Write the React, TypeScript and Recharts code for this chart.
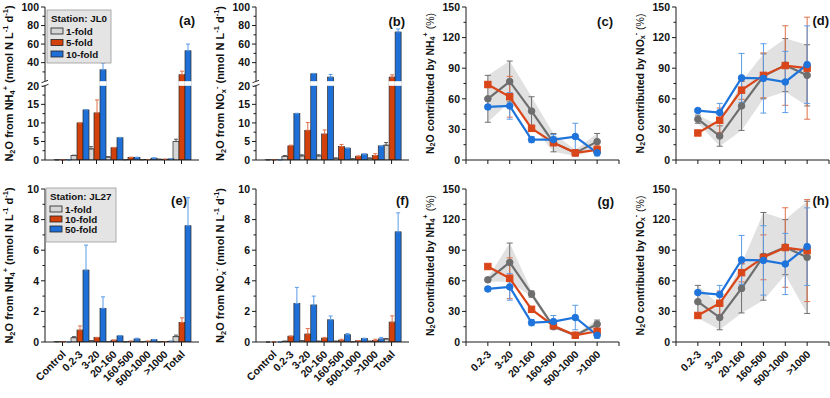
import React from 'react';
import { ComposedChart, Bar, Line, Area, XAxis, YAxis, ErrorBar } from 'recharts';

// ---------- categories ----------
const barCategories = ['Control', '0.2-3', '3-20', '20-160', '160-500', '500-1000', '>1000', 'Total'];
const lineCategories = ['0.2-3', '3-20', '20-160', '160-500', '500-1000', '>1000'];

// ---------- (a) JL0, N2O from NH4+ ----------
const aFold1 = [0.05, 1.2, 3.0, 0.8, 0.1, 0.1, 0.2, 5.0];
const aFold1Err = [0, 0.1, 0.6, 0.1, 0, 0, 0, 0.6];
const aFold5 = [0.05, 10.0, 12.7, 3.3, 0.7, 0.1, 0.2, 27.0];
const aFold5Err = [0, 0, 3.5, 0.1, 0.05, 0, 0, 3.8];
const aFold10 = [0.05, 13.5, 32.3, 6.0, 0.7, 0.5, 0.3, 52.8];
const aFold10Err = [0, 0.1, 7.2, 0.1, 0.05, 0.05, 0, 7.2];

// ---------- (b) JL0, N2O from NOx- ----------
const bFold1 = [0.05, 1.0, 1.1, 1.1, 0.5, 0.3, 0.5, 4.0];
const bFold1Err = [0, 0.2, 0.3, 0.3, 0, 0, 0, 0.7];
const bFold5 = [0.05, 3.8, 8.0, 7.0, 3.6, 1.0, 1.2, 24.4];
const bFold5Err = [0, 0.2, 2.1, 1.1, 0.6, 0.1, 0.5, 2.5];
const bFold10 = [0.05, 12.5, 28.0, 24.4, 3.2, 1.6, 3.8, 73.0];
const bFold10Err = [0, 0.1, 0.4, 2.9, 0, 0, 0, 3.3];

// ---------- (e) JL27, N2O from NH4+ ----------
const eFold1 = [0.02, 0.28, 0.08, 0.03, 0.02, 0.02, 0.02, 0.35];
const eFold1Err = [0, 0.07, 0, 0, 0, 0, 0, 0.1];
const eFold10 = [0.02, 0.78, 0.3, 0.12, 0.05, 0.05, 0.03, 1.28];
const eFold10Err = [0, 0.27, 0, 0, 0, 0, 0, 0.3];
const eFold50 = [0, 4.7, 2.2, 0.4, 0.2, 0.15, 0.05, 7.6];
const eFold50Err = [0, 1.63, 0.75, 0.03, 0.05, 0.02, 0, 1.83];

// ---------- (f) JL27, N2O from NOx- ----------
const fFold1 = [0, 0.05, 0.08, 0.05, 0.05, 0.02, 0.05, 0.2];
const fFold1Err = [0, 0, 0, 0, 0, 0, 0, 0.03];
const fFold10 = [0, 0.38, 0.52, 0.25, 0.12, 0.08, 0.1, 1.3];
const fFold10Err = [0, 0, 0.36, 0.05, 0.06, 0, 0.08, 0.41];
const fFold50 = [0, 2.52, 2.42, 1.45, 0.48, 0.22, 0.2, 7.2];
const fFold50Err = [0, 1.05, 0.58, 0.25, 0.07, 0.03, 0.1, 1.24];

// ---------- (c) contribution by NH4+ (JL0) ----------
const cGrey = [60, 77, 48, 17, 7, 18];
const cGreyErr = [23, 20, 14, 9, 3, 8];
const cRed = [74, 62, 31, 17, 7, 10];
const cRedErr = [3, 20, 3, 3, 1, 4];
const cBlue = [52, 53, 20, 20, 23, 7];
const cBlueErr = [2, 13, 3, 5, 13, 3];

// ---------- (d) contribution by NOx- (JL0) ----------
const dGrey = [40, 23.5, 53, 82, 93, 83];
const dGreyErr = [4, 10, 24, 22, 26, 30];
const dRed = [26.5, 39, 68.5, 83, 92.6, 90];
const dRedErr = [2, 12, 9, 22, 39, 50];
const dBlue = [48.5, 46.5, 80.5, 80, 76.5, 93.5];
const dBlueErr = [2, 9, 24, 34, 30, 38];

// ---------- (g) contribution by NH4+ (JL27) ----------
const gGrey = [61, 78, 47, 15, 6.6, 17.5];
const gGreyErr = [2, 19, 3, 2, 1, 4];
const gRed = [74, 62.5, 32, 16, 6.6, 10.5];
const gRedErr = [2, 20, 3, 2, 1, 2];
const gBlue = [52, 54, 19, 20, 24, 6.6];
const gBlueErr = [2, 13, 3, 6, 12, 3];

// ---------- (h) contribution by NOx- (JL27) ----------
const hGrey = [39.5, 24, 52.5, 84, 93, 83];
const hGreyErr = [16, 12, 24, 43, 27, 55];
const hRed = [26, 38, 68, 83, 92.6, 89.6];
const hRedErr = [2, 12, 9, 22, 39, 50];
const hBlue = [48.5, 46.5, 80.5, 80, 76.5, 93.5];
const hBlueErr = [2, 9, 24, 34, 30, 38];

// ---------- legend labels ----------
const legendTop = ['1-fold', '5-fold', '10-fold'];
const legendBottom = ['1-fold', '10-fold', '50-fold'];

// ---------- styles ----------
const FONT = '"Liberation Sans", Arial, Helvetica, sans-serif';
const AX = '#1a1a1a';
const BAR_GREY = '#d6d6d6';
const BAR_RED = '#d2400c';
const BAR_BLUE = '#1e6fd8';
const ERR_GREY = '#555555';
const ERR_RED = '#e0704a';
const ERR_BLUE = '#5a9be8';
const LINE_GREY = '#6e6e6e';
const LINE_RED = '#d9461a';
const LINE_BLUE = '#1f74dc';
const TICK_FS = 10.5;

// broken axis (upper part compressed 4x, small gap)
const BREAK_AT = 20;
const BREAK_GAP = 1.25;
const toDisplay = (v: number) => (v <= BREAK_AT ? v : BREAK_AT + BREAK_GAP + (v - BREAK_AT) / 4);
const fromDisplay = (d: number) => (d <= BREAK_AT ? d : Math.round(BREAK_AT + (d - BREAK_AT - BREAK_GAP) * 4));

const COLS = [
  { left: 0, width: 205, yw: 45, mr: 6 },
  { left: 205, width: 210, yw: 51, mr: 6 },
  { left: 415, width: 210, yw: 51, mr: 6 },
  { left: 625, width: 205, yw: 51, mr: 1 },
];
const ROWS = [
  { top: 0, height: 175, mt: 7, xh: 15 },
  { top: 175, height: 223, mt: 14, xh: 56 },
];

type Ser = { v: number[]; e: number[] };

function buildBarRows(series: Ser[], broken: boolean) {
  const f = broken ? toDisplay : (v: number) => v;
  return barCategories.map((cat, i) => {
    const row: any = { cat };
    ['g', 'r', 'b'].forEach((k, s) => {
      const v = series[s].v[i];
      const e = series[s].e[i];
      row[k] = f(v);
      row[k + 'E'] = [0, f(v + e) - f(v)];
    });
    return row;
  });
}

function buildLineRows(g: number[], gE: number[], r: number[], rE: number[], b: number[], bE: number[]) {
  return lineCategories.map((cat, i) => ({
    x: i + 1,
    cat,
    g: g[i],
    gE: gE[i],
    band: [g[i] - gE[i], g[i] + gE[i]],
    r: r[i],
    rE: rE[i],
    b: b[i],
    bE: bE[i],
  }));
}

const YTick = (p: any) => {
  const { x, y, payload, majors, fmt, breakAt } = p;
  const v = payload.value;
  if (breakAt !== undefined && Math.abs(v - breakAt) < 1e-6) {
    return (
      <g>
        <rect x={x - 4} y={y - 2.2} width={8} height={4.4} fill="#fff" />
        <path
          d={`M${x - 3.5},${y - 0.8} L${x + 3},${y - 3.2} M${x - 3},${y + 3.2} L${x + 3.5},${y + 0.8}`}
          stroke={AX}
          strokeWidth={0.9}
          fill="none"
        />
      </g>
    );
  }
  const major = majors.some((m: number) => Math.abs(m - v) < 1e-6);
  return (
    <g>
      <line x1={x} x2={x - (major ? 4 : 2.5)} y1={y} y2={y} stroke={AX} strokeWidth={1} />
      {major && (
        <text x={x - 6} y={y} dy="0.36em" textAnchor="end" fontSize={TICK_FS} fontWeight="bold" fontFamily={FONT} fill="#111">
          {fmt(v)}
        </text>
      )}
    </g>
  );
};

const XTick = (p: any) => {
  const { x, y, payload, rotate, labelOf } = p;
  const label = labelOf ? labelOf(payload.value) : String(payload.value);
  return (
    <g>
      <line x1={x} x2={x} y1={y} y2={y + 4} stroke={AX} strokeWidth={1} />
      {rotate && label !== '' && (
        <text
          transform={`translate(${x + 4},${y + 13}) rotate(-45)`}
          textAnchor="end"
          fontSize={TICK_FS}
          fontWeight="bold"
          fontFamily={FONT}
          fill="#111"
        >
          {label}
        </text>
      )}
    </g>
  );
};

function makeBarShape(key: string, broken: boolean) {
  return (p: any) => {
    const { x, y, width, height, fill } = p;
    if ([x, y, width, height].some((n) => n == null || isNaN(n))) return <g />;
    const h = Math.max(height, 0);
    const d = p.payload ? p.payload[key] : 0;
    return (
      <g>
        <rect x={x} y={y} width={width} height={h} fill={fill} stroke="#2a2a2a" strokeWidth={0.7} />
        {broken && d > BREAK_AT + BREAK_GAP && h > 0 && (
          <rect
            x={x - 0.6}
            y={y + h - ((BREAK_AT + BREAK_GAP) * h) / d}
            width={width + 1.2}
            height={(BREAK_GAP * h) / d}
            fill="#fff"
          />
        )}
      </g>
    );
  };
}

function BarPanel({ c, r, series, broken }: { c: number; r: number; series: Ser[]; broken: boolean }) {
  const col = COLS[c];
  const row = ROWS[r];
  const data = buildBarRows(series, broken);
  const majors = broken ? [0, 5, 10, 15, 20, 26.25, 31.25, 36.25, 41.25] : [0, 2, 4, 6, 8, 10];
  const minors = broken ? [2.5, 7.5, 12.5, 17.5, 23.75, 28.75, 33.75, 38.75] : [1, 3, 5, 7, 9];
  const ticks = [...majors, ...minors, ...(broken ? [BREAK_AT + BREAK_GAP / 2] : [])].sort((a, b) => a - b);
  const domain = broken ? [0, 41.25] : [0, 10];
  const fmt = broken ? (v: number) => String(fromDisplay(v)) : (v: number) => String(v);
  const colors = [BAR_GREY, BAR_RED, BAR_BLUE];
  const errs = [ERR_GREY, ERR_RED, ERR_BLUE];
  return (
    <div style={{ position: 'absolute', left: col.left, top: row.top }}>
      <ComposedChart
        width={col.width}
        height={row.height}
        data={data}
        margin={{ top: row.mt, right: col.mr, bottom: 0, left: 0 }}
        barCategoryGap={0}
        barGap={0}
      >
        <XAxis
          dataKey="cat"
          type="category"
          interval={0}
          padding={{ left: 9, right: 9 }}
          height={row.xh}
          tickSize={0}
          tickMargin={0}
          tickLine={false}
          axisLine={{ stroke: AX, strokeWidth: 1 }}
          tick={<XTick rotate={r === 1} />}
        />
        <XAxis xAxisId="top" orientation="top" height={0} tick={false} tickLine={false} axisLine={{ stroke: AX, strokeWidth: 1 }} />
        <YAxis
          type="number"
          domain={domain}
          ticks={ticks}
          interval={0}
          allowDataOverflow
          width={col.yw}
          tickSize={0}
          tickMargin={0}
          tickLine={false}
          axisLine={{ stroke: AX, strokeWidth: 1 }}
          tick={<YTick majors={majors} fmt={fmt} breakAt={broken ? BREAK_AT + BREAK_GAP / 2 : undefined} />}
        />
        <YAxis yAxisId="right" orientation="right" width={0} domain={[0, 1]} tick={false} tickLine={false} axisLine={{ stroke: AX, strokeWidth: 1 }} />
        {['g', 'r', 'b'].map((k, i) => (
          <Bar key={k} dataKey={k} fill={colors[i]} isAnimationActive={false} shape={makeBarShape(k, broken)}>
            <ErrorBar dataKey={k + 'E'} width={2} stroke={errs[i]} strokeWidth={1} direction="y" />
          </Bar>
        ))}
      </ComposedChart>
    </div>
  );
}

const circleDot = (color: string) => (p: any) => (
  <circle key={`c${p.index}`} cx={p.cx} cy={p.cy} r={3.3} fill={color} stroke={color} />
);
const squareDot = (color: string) => (p: any) => (
  <rect key={`s${p.index}`} x={p.cx - 3.2} y={p.cy - 3.2} width={6.4} height={6.4} fill={color} stroke={color} />
);

function LinePanel({ c, r, rows }: { c: number; r: number; rows: any[] }) {
  const col = COLS[c];
  const row = ROWS[r];
  const majors = [0, 30, 60, 90, 120, 150];
  const ticks = [0, 15, 30, 45, 60, 75, 90, 105, 120, 135, 150];
  const labelOf = (v: number) => (v >= 1 && v <= lineCategories.length ? lineCategories[v - 1] : '');
  return (
    <div style={{ position: 'absolute', left: col.left, top: row.top }}>
      <ComposedChart width={col.width} height={row.height} data={rows} margin={{ top: row.mt, right: col.mr, bottom: 0, left: 0 }}>
        <XAxis
          dataKey="x"
          type="number"
          domain={[0, 7]}
          ticks={[0, 1, 2, 3, 4, 5, 6, 7]}
          interval={0}
          height={row.xh}
          tickSize={0}
          tickMargin={0}
          tickLine={false}
          axisLine={{ stroke: AX, strokeWidth: 1 }}
          tick={<XTick rotate={r === 1} labelOf={labelOf} />}
        />
        <XAxis xAxisId="top" orientation="top" height={0} tick={false} tickLine={false} axisLine={{ stroke: AX, strokeWidth: 1 }} />
        <YAxis
          type="number"
          domain={[0, 150]}
          ticks={ticks}
          interval={0}
          width={col.yw}
          tickSize={0}
          tickMargin={0}
          tickLine={false}
          axisLine={{ stroke: AX, strokeWidth: 1 }}
          tick={<YTick majors={majors} fmt={(v: number) => String(v)} />}
        />
        <YAxis yAxisId="right" orientation="right" width={0} domain={[0, 1]} tick={false} tickLine={false} axisLine={{ stroke: AX, strokeWidth: 1 }} />
        <Area dataKey="band" type="linear" fill="#cdcdcd" fillOpacity={0.6} stroke="none" isAnimationActive={false} />
        <Line dataKey="g" type="linear" stroke={LINE_GREY} strokeWidth={2.2} dot={circleDot(LINE_GREY)} isAnimationActive={false}>
          <ErrorBar dataKey="gE" width={3} stroke={LINE_GREY} strokeWidth={1} direction="y" />
        </Line>
        <Line dataKey="r" type="linear" stroke={LINE_RED} strokeWidth={2.2} dot={squareDot(LINE_RED)} isAnimationActive={false}>
          <ErrorBar dataKey="rE" width={3} stroke={ERR_RED} strokeWidth={1} direction="y" />
        </Line>
        <Line dataKey="b" type="linear" stroke={LINE_BLUE} strokeWidth={2.2} dot={circleDot(LINE_BLUE)} isAnimationActive={false}>
          <ErrorBar dataKey="bE" width={3} stroke={ERR_BLUE} strokeWidth={1} direction="y" />
        </Line>
      </ComposedChart>
    </div>
  );
}

type Seg = [string, 'n' | 'sub' | 'sup' | 'r'];
const titleNh4Rate: Seg[] = [['N', 'n'], ['2', 'sub'], ['O from NH', 'n'], ['4', 'sub'], ['+', 'sup'], [' (nmol N L', 'n'], ['-1', 'sup'], [' d', 'n'], ['-1', 'sup'], [')', 'n']];
const titleNoxRate: Seg[] = [['N', 'n'], ['2', 'sub'], ['O from NO', 'n'], ['x', 'sub'], ['-', 'sup'], [' (nmol N L', 'n'], ['-1', 'sup'], [' d', 'n'], ['-1', 'sup'], [')', 'n']];
const titleNh4Pct: Seg[] = [['N', 'n'], ['2', 'sub'], ['O contributed by NH', 'n'], ['4', 'sub'], ['+', 'sup'], [' (%)', 'r']];
const titleNoxPct: Seg[] = [['N', 'n'], ['2', 'sub'], ['O contributed by NO', 'n'], ['x', 'sub'], ['-', 'sup'], [' (%)', 'r']];

function AxisTitle({ x, y, segs, size }: { x: number; y: number; segs: Seg[]; size: number }) {
  let cur = 0;
  const small = size * 0.68;
  return (
    <text transform={`translate(${x},${y}) rotate(-90)`} textAnchor="middle" dominantBaseline="central" fontFamily={FONT} fill="#111">
      {segs.map(([t, k], i) => {
        const target = k === 'sub' ? size * 0.3 : k === 'sup' ? -size * 0.4 : 0;
        const dy = target - cur;
        cur = target;
        return (
          <tspan key={i} dy={dy} fontSize={k === 'sub' || k === 'sup' ? small : size} fontWeight={k === 'r' ? 'normal' : 'bold'}>
            {t}
          </tspan>
        );
      })}
    </text>
  );
}

function LegendBox({ x, y, w, h, title, labels, rowGap }: { x: number; y: number; w: number; h: number; title: string; labels: string[]; rowGap: number }) {
  const sw = [BAR_GREY, BAR_RED, BAR_BLUE];
  return (
    <g>
      <rect x={x} y={y} width={w} height={h} fill="#e4e4e4" stroke="#9a9a9a" strokeWidth={0.8} />
      <text x={x + 4} y={y + 8} dy="0.36em" fontSize={9.8} fontWeight="bold" fontFamily={FONT} fill="#111">
        {title}
      </text>
      {labels.map((l, i) => {
        const cy = y + 21 + i * rowGap;
        return (
          <g key={l}>
            <rect x={x + 4} y={cy - 3} width={12} height={6} fill={sw[i]} stroke="#222" strokeWidth={0.8} />
            <text x={x + 19} y={cy} dy="0.36em" fontSize={9.8} fontWeight="bold" fontFamily={FONT} fill="#111">
              {l}
            </text>
          </g>
        );
      })}
    </g>
  );
}

export default function App() {
  const plotLeft = [45, 256, 466, 676];
  const midTop = 83.5;
  const midBottom = 265.5;
  const letters: [string, number, number][] = [
    ['(a)', 195, 20], ['(b)', 405, 21], ['(c)', 613, 21], ['(d)', 829, 20],
    ['(e)', 187, 200], ['(f)', 409, 200], ['(g)', 614, 201], ['(h)', 829, 200],
  ];
  return (
    <div style={{ position: 'absolute', left: 0, top: 0, width: 830, height: 398, background: '#fff', overflow: 'hidden' }}>
      <BarPanel c={0} r={0} broken series={[{ v: aFold1, e: aFold1Err }, { v: aFold5, e: aFold5Err }, { v: aFold10, e: aFold10Err }]} />
      <BarPanel c={1} r={0} broken series={[{ v: bFold1, e: bFold1Err }, { v: bFold5, e: bFold5Err }, { v: bFold10, e: bFold10Err }]} />
      <LinePanel c={2} r={0} rows={buildLineRows(cGrey, cGreyErr, cRed, cRedErr, cBlue, cBlueErr)} />
      <LinePanel c={3} r={0} rows={buildLineRows(dGrey, dGreyErr, dRed, dRedErr, dBlue, dBlueErr)} />
      <BarPanel c={0} r={1} broken={false} series={[{ v: eFold1, e: eFold1Err }, { v: eFold10, e: eFold10Err }, { v: eFold50, e: eFold50Err }]} />
      <BarPanel c={1} r={1} broken={false} series={[{ v: fFold1, e: fFold1Err }, { v: fFold10, e: fFold10Err }, { v: fFold50, e: fFold50Err }]} />
      <LinePanel c={2} r={1} rows={buildLineRows(gGrey, gGreyErr, gRed, gRedErr, gBlue, gBlueErr)} />
      <LinePanel c={3} r={1} rows={buildLineRows(hGrey, hGreyErr, hRed, hRedErr, hBlue, hBlueErr)} />
      <svg width={830} height={398} style={{ position: 'absolute', left: 0, top: 0, pointerEvents: 'none' }}>
        <AxisTitle x={plotLeft[0] - 36} y={midTop} segs={titleNh4Rate} size={11} />
        <AxisTitle x={plotLeft[1] - 36} y={midTop} segs={titleNoxRate} size={11} />
        <AxisTitle x={plotLeft[2] - 36} y={midTop} segs={titleNh4Pct} size={10.5} />
        <AxisTitle x={plotLeft[3] - 36} y={midTop} segs={titleNoxPct} size={10.5} />
        <AxisTitle x={plotLeft[0] - 36} y={midBottom} segs={titleNh4Rate} size={11} />
        <AxisTitle x={plotLeft[1] - 36} y={midBottom} segs={titleNoxRate} size={11} />
        <AxisTitle x={plotLeft[2] - 36} y={midBottom} segs={titleNh4Pct} size={10.5} />
        <AxisTitle x={plotLeft[3] - 36} y={midBottom} segs={titleNoxPct} size={10.5} />
        <LegendBox x={47} y={10} w={64} h={53} title="Station: JL0" labels={legendTop} rowGap={11.5} />
        <LegendBox x={46} y={188} w={70} h={54} title="Station: JL27" labels={legendBottom} rowGap={10} />
        {letters.map(([t, x, y]) => (
          <text key={t} x={x} y={y} dy="0.36em" textAnchor="end" fontSize={13} fontWeight="bold" fontFamily={FONT} fill="#111">
            {t}
          </text>
        ))}
      </svg>
    </div>
  );
}
